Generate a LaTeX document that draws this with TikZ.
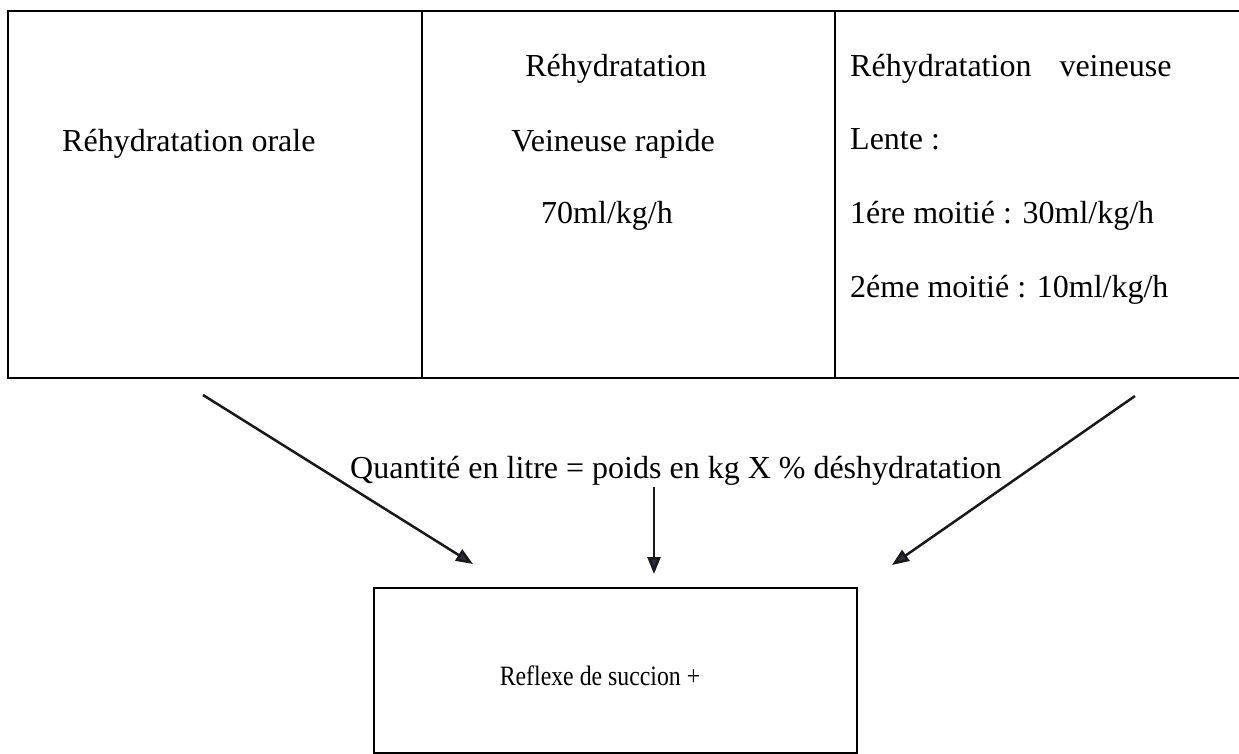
\documentclass[tikz,border=0pt]{standalone}
\usepackage{fontspec}
\usepackage{graphicx}
\setmainfont{Liberation Serif}
\usetikzlibrary{arrows.meta}
\definecolor{headcol}{HTML}{2E2E3E}
\begin{document}
\begin{tikzpicture}[x=1pt,y=-1pt,
  txt/.style={font=\fontsize{32}{38}\selectfont, inner sep=0pt, text=black},
  rule/.style={line width=2pt, draw=black},
  arr/.style={line width=2.5pt, draw=black!90, -{Triangle[length=17pt,width=13pt,fill=headcol]}}]
\useasboundingbox (0,0) rectangle (1239,754);
% table
\coordinate (tl) at (8,11);
\coordinate (bl) at (8,378);
\coordinate (tr) at (1239,11);
\coordinate (br) at (1239,378);
\coordinate (d1t) at (422,11);
\coordinate (d1b) at (422,378);
\coordinate (d2t) at (835,11);
\coordinate (d2b) at (835,378);
\draw[rule] (tr) -- (tl) -- (bl) -- (br);
\draw[rule] (d1t) -- (d1b);
\draw[rule] (d2t) -- (d2b);
% column 1
\node[txt, anchor=base west] (oral) at (62,152) {Réhydratation orale};
% column 2
\node[txt, anchor=base] (r1) at (616,77) {Réhydratation};
\node[txt, anchor=base] (r2) at (613,152) {Veineuse rapide};
\node[txt, anchor=base] (r3) at (607,223) {70ml/kg/h};
% column 3
\node[txt, anchor=base west] (l1) at (850,77) {Réhydratation\hspace{28pt}veineuse};
\node[txt, anchor=base west] (l2) at (850,150) {Lente :};
\node[txt, anchor=base west] (l3) at (850,223) {1ére moitié : 30ml/kg/h};
\node[txt, anchor=base west] (l4) at (850,297) {2éme moitié : 10ml/kg/h};
% formula
\node[txt, anchor=base west] (formula) at (350,478) {Quantité en litre = poids en kg X \% déshydratation};
% bottom box
\node[rule, draw, minimum width=483pt, minimum height=165pt, anchor=north west, inner sep=0pt] (box) at (373,587) {};
\node[txt, anchor=base] (reflexe) at (600,685) {\scalebox{0.85}[1]{\fontsize{28}{34}\selectfont Reflexe de succion +}};
% arrows
\coordinate (a1s) at (203,395);
\coordinate (a1e) at (473,564);
\coordinate (a2s) at (654,487);
\coordinate (a2e) at (654,574);
\coordinate (a3s) at (1135,396);
\coordinate (a3e) at (892,565);
\draw[arr] (a1s) -- (a1e);
\draw[arr] (a2s) -- (a2e);
\draw[arr] (a3s) -- (a3e);
\end{tikzpicture}
\end{document}
